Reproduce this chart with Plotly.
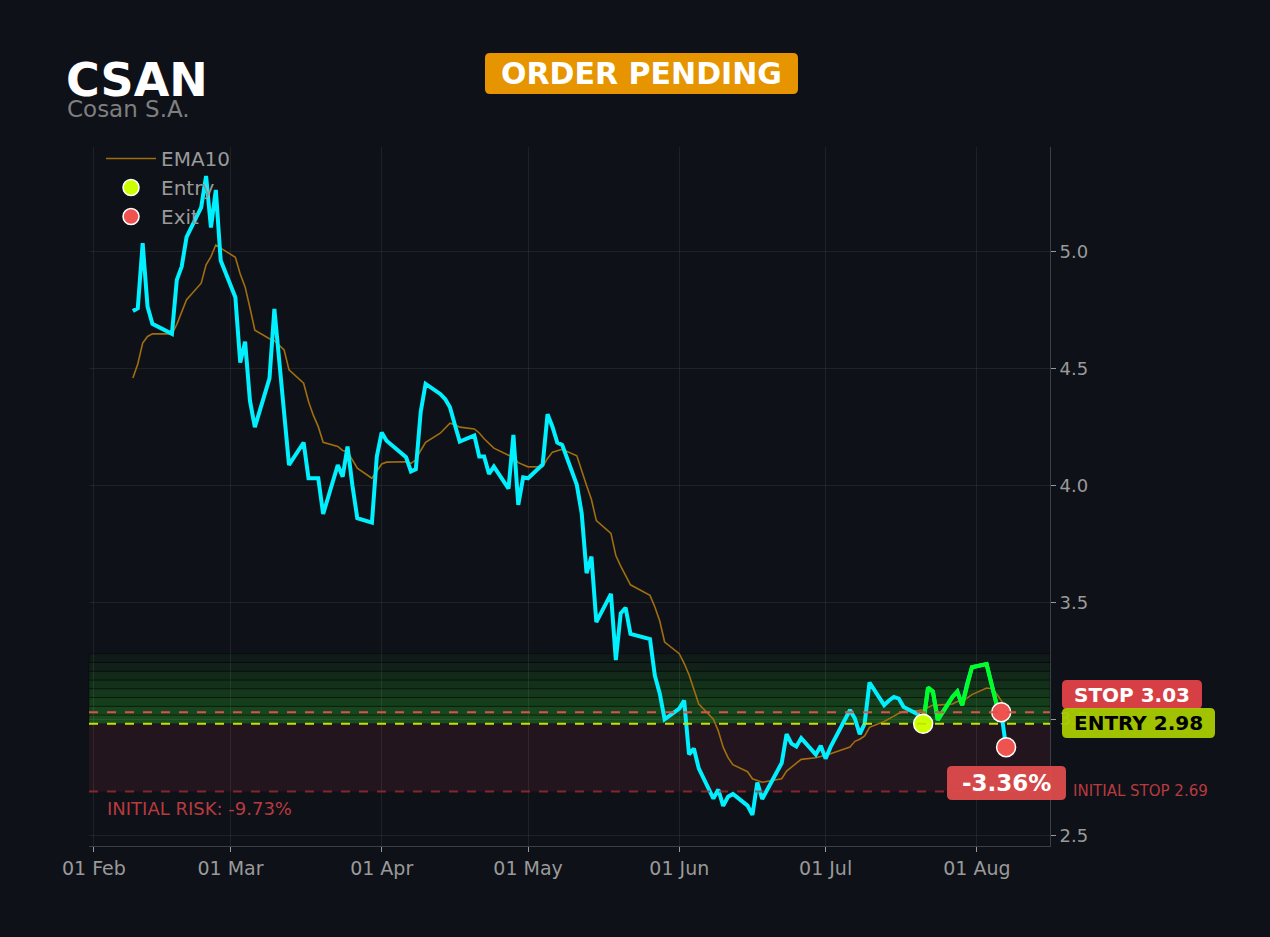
import plotly.graph_objects as go

# trading days shown on the chart
dates = [
    "2026-02-09", "2026-02-10", "2026-02-11", "2026-02-12", "2026-02-13",
    "2026-02-17", "2026-02-18", "2026-02-19", "2026-02-20",
    "2026-02-23", "2026-02-24", "2026-02-25", "2026-02-26", "2026-02-27",
    "2026-03-02", "2026-03-03", "2026-03-04", "2026-03-05", "2026-03-06",
    "2026-03-09", "2026-03-10", "2026-03-11", "2026-03-12", "2026-03-13",
    "2026-03-16", "2026-03-17", "2026-03-18", "2026-03-19", "2026-03-20",
    "2026-03-23", "2026-03-24", "2026-03-25", "2026-03-26", "2026-03-27",
    "2026-03-30", "2026-03-31", "2026-04-01", "2026-04-02",
    "2026-04-06", "2026-04-07", "2026-04-08", "2026-04-09", "2026-04-10",
    "2026-04-13", "2026-04-14", "2026-04-15", "2026-04-16", "2026-04-17",
    "2026-04-20", "2026-04-21", "2026-04-22", "2026-04-23", "2026-04-24",
    "2026-04-27", "2026-04-28", "2026-04-29", "2026-04-30", "2026-05-01",
    "2026-05-04", "2026-05-05", "2026-05-06", "2026-05-07", "2026-05-08",
    "2026-05-11", "2026-05-12", "2026-05-13", "2026-05-14", "2026-05-15",
    "2026-05-18", "2026-05-19", "2026-05-20", "2026-05-21", "2026-05-22",
    "2026-05-26", "2026-05-27", "2026-05-28", "2026-05-29",
    "2026-06-01", "2026-06-02", "2026-06-03", "2026-06-04", "2026-06-05",
    "2026-06-08", "2026-06-09", "2026-06-10", "2026-06-11", "2026-06-12",
    "2026-06-15", "2026-06-16", "2026-06-17", "2026-06-18",
    "2026-06-22", "2026-06-23", "2026-06-24", "2026-06-25", "2026-06-26",
    "2026-06-29", "2026-06-30", "2026-07-01", "2026-07-02",
    "2026-07-06", "2026-07-07", "2026-07-08", "2026-07-09", "2026-07-10",
    "2026-07-13", "2026-07-14", "2026-07-15", "2026-07-16", "2026-07-17",
    "2026-07-20", "2026-07-21", "2026-07-22", "2026-07-23", "2026-07-24",
    "2026-07-27", "2026-07-28", "2026-07-29", "2026-07-30", "2026-07-31",
    "2026-08-03", "2026-08-04", "2026-08-05", "2026-08-06", "2026-08-07",
]

close = [
    4.747, 4.759, 5.037, 4.766, 4.692,
    4.649, 4.88, 4.937, 5.063,
    5.191, 5.325, 5.104, 5.265, 4.963,
    4.806, 4.526, 4.616, 4.362, 4.25,
    4.459, 4.756, 4.52, 4.295, 4.088,
    4.184, 4.031, 4.031, 4.031, 3.878,
    4.088, 4.038, 4.167, 4.0, 3.86,
    3.841, 4.124, 4.227, 4.192,
    4.121, 4.06, 4.07, 4.316, 4.435,
    4.392, 4.37, 4.335, 4.26, 4.188,
    4.214, 4.124, 4.124, 4.05, 4.081,
    3.987, 4.217, 3.917, 4.035, 4.031,
    4.09, 4.305, 4.252, 4.184, 4.174,
    4.003, 3.881, 3.625, 3.696, 3.415,
    3.536, 3.253, 3.453, 3.477, 3.365,
    3.343, 3.186, 3.11, 2.999,
    3.045, 3.08, 2.849, 2.874, 2.789,
    2.66, 2.699, 2.629, 2.668, 2.68,
    2.63, 2.59, 2.729, 2.658,
    2.812, 2.936, 2.895, 2.883, 2.919,
    2.848, 2.886, 2.831, 2.88,
    3.039, 3.003, 2.936, 2.981, 3.157,
    3.06, 3.08, 3.095, 3.088, 3.052,
    3.02, 2.98, 3.135, 3.118, 2.997,
    3.095, 3.118, 3.06, 3.15, 3.222,
    3.236, 3.15, 3.068, 3.03, 2.88,
]

ema10 = [
    4.46, 4.52, 4.61, 4.638, 4.649,
    4.649, 4.69, 4.745, 4.795,
    4.866, 4.945, 4.98, 5.03, 5.016,
    4.977, 4.905, 4.85, 4.76, 4.665,
    4.628, 4.62, 4.60, 4.58, 4.495,
    4.438, 4.36, 4.30, 4.252, 4.185,
    4.167, 4.15, 4.145, 4.11, 4.074,
    4.031, 4.062, 4.092, 4.10,
    4.102, 4.095, 4.11, 4.15, 4.185,
    4.224, 4.245, 4.267, 4.26, 4.25,
    4.242, 4.225, 4.20, 4.18, 4.16,
    4.13, 4.121, 4.098, 4.09, 4.08,
    4.081, 4.116, 4.143, 4.15, 4.155,
    4.127, 4.06, 4.0, 3.94, 3.85,
    3.795, 3.70, 3.655, 3.617, 3.575,
    3.53, 3.48, 3.42, 3.33,
    3.28, 3.239, 3.19, 3.13, 3.065,
    3.0, 2.95, 2.88, 2.835, 2.805,
    2.775, 2.745, 2.739, 2.73,
    2.745, 2.778, 2.795, 2.812, 2.828,
    2.835, 2.842, 2.846, 2.852,
    2.881, 2.905, 2.914, 2.928, 2.965,
    2.99, 3.0, 3.013, 3.025, 3.033,
    3.037, 3.04, 3.05, 3.06, 3.06,
    3.065, 3.075, 3.08, 3.09, 3.105,
    3.133, 3.13, 3.11, 3.08, 3.05,
]

entry_date = ["2026-07-21"]
entry_price = [2.98]
exit_dates = ["2026-08-06", "2026-08-07"]
exit_prices = [3.03, 2.88]

stop_price = 3.03
initial_stop = 2.69
tick_vals = [2.5, 3.0, 3.5, 4.0, 4.5, 5.0]

BG = "#0e1117"
FONT = "DejaVu Sans"
W, H = 1270, 937
ML, MR, MT, MB = 89, 220, 147, 91


def P(px, py):
    # pixel -> paper coords
    return (px - ML) / (W - ML - MR), (H - MB - py) / (H - MT - MB)


def badge(x0, y0, x1, y1, color, r=5):
    def p(a, b):
        u, v = P(a, b)
        return "%.5f,%.5f" % (u, v)
    path = ("M" + p(x0 + r, y0) + " L" + p(x1 - r, y0) + " Q" + p(x1, y0) + " " + p(x1, y0 + r) +
            " L" + p(x1, y1 - r) + " Q" + p(x1, y1) + " " + p(x1 - r, y1) +
            " L" + p(x0 + r, y1) + " Q" + p(x0, y1) + " " + p(x0, y1 - r) +
            " L" + p(x0, y0 + r) + " Q" + p(x0, y0) + " " + p(x0 + r, y0) + " Z")
    return dict(type="path", xref="paper", yref="paper", path=path,
                fillcolor=color, line=dict(width=0), layer="above")


i0 = dates.index(entry_date[0])
i1 = dates.index(exit_dates[0])

fig = go.Figure()

fig.add_trace(go.Scatter(x=dates, y=ema10, mode="lines", name="EMA10",
                         line=dict(color="#a06e10", width=1.6)))
fig.add_trace(go.Scatter(x=dates, y=close, mode="lines", showlegend=False,
                         line=dict(color="#00f0ff", width=4)))
fig.add_trace(go.Scatter(x=dates[i0:i1 + 1], y=close[i0:i1 + 1], mode="lines",
                         showlegend=False, line=dict(color="#00ff22", width=4)))
fig.add_trace(go.Scatter(x=entry_date, y=entry_price, mode="markers", name="Entry",
                         marker=dict(color="#ccff00", size=19,
                                     line=dict(color="white", width=1.5))))
fig.add_trace(go.Scatter(x=exit_dates, y=exit_prices, mode="markers", name="Exit",
                         marker=dict(color="#ef5350", size=19,
                                     line=dict(color="white", width=1.5))))

# green profit zone, stacked stripes fading upward
for k in range(8):
    fig.add_shape(type="rect", xref="paper", x0=0, x1=1, yref="y",
                  y0=2.98 + 0.0375 * k, y1=2.98 + 0.0375 * (k + 1),
                  fillcolor="rgba(40,160,40,%.3f)" % (0.42 - 0.05 * k),
                  line=dict(color="rgba(0,0,0,0.35)", width=1), layer="below")

# risk zone
fig.add_shape(type="rect", xref="paper", x0=0, x1=1, yref="y",
              y0=initial_stop, y1=entry_price[0],
              fillcolor="rgba(120,40,60,0.2)", line=dict(width=0), layer="below")

fig.add_hline(y=stop_price, line=dict(color="#e0504a", width=2, dash="dash"))
fig.add_hline(y=entry_price[0], line=dict(color="#c8e000", width=2, dash="dash"))
fig.add_hline(y=initial_stop, line=dict(color="rgba(170,45,50,0.75)", width=2, dash="dash"))

# badges
fig.add_shape(**badge(485, 53, 798, 94, "#e69500"))
fig.add_shape(**badge(1062, 680, 1202, 709, "#d64045"))
fig.add_shape(**badge(1062, 708, 1215, 738, "rgba(170,204,0,0.95)"))
fig.add_shape(**badge(947, 766, 1066, 800, "rgba(226,76,76,0.93)"))

ann = [
    ("<b>CSAN</b>", P(64, 80), 46, "white", "left"),
    ("Cosan S.A.", P(65, 109), 23, "#7f7f7f", "left"),
    ("<b>ORDER PENDING</b>", P(641.5, 73.5), 30, "white", "center"),
    ("<b>STOP 3.03</b>", P(1132, 694.5), 20, "white", "center"),
    ("<b>ENTRY 2.98</b>", P(1138.5, 723), 20, "black", "center"),
    ("<b>-3.36%</b>", P(1006.5, 783), 23, "white", "center"),
    ("INITIAL STOP 2.69", P(1071, 791), 15, "#b83a3f", "left"),
    ("INITIAL RISK: -9.73%", P(105, 808), 18, "#b83a3f", "left"),
]
for text, (ax, ay), size, color, anchor in ann:
    fig.add_annotation(text=text, x=ax, y=ay, xref="paper", yref="paper",
                       xanchor=anchor, yanchor="middle", showarrow=False,
                       font=dict(size=size, color=color))

fig.update_layout(
    width=W, height=H,
    paper_bgcolor=BG, plot_bgcolor=BG,
    font=dict(family=FONT, color="#9a9a9a", size=18),
    margin=dict(l=ML, r=MR, t=MT, b=MB),
    showlegend=True,
    legend=dict(x=0.0125, y=1.0114, xanchor="left", yanchor="top",
                bgcolor="rgba(0,0,0,0)", font=dict(size=20, color="#9a9a9a"),
                itemwidth=50),
)
fig.update_xaxes(range=["2026-01-31", "2026-08-16"], tickformat="%d %b", dtick="M1",
                 tick0="2026-02-01", showgrid=True, gridcolor="rgba(255,255,255,0.07)",
                 showline=True, linecolor="#3a3e46", ticks="outside", ticklen=5,
                 tickcolor="#9a9a9a", zeroline=False, tickfont=dict(size=19))
fig.update_yaxes(range=[2.457, 5.449], side="right", tickvals=tick_vals,
                 tickformat=".1f", showgrid=True, gridcolor="rgba(255,255,255,0.07)",
                 showline=True, linecolor="#3a3e46", ticks="outside", ticklen=5,
                 tickcolor="#9a9a9a", zeroline=False, tickfont=dict(size=18))

fig.write_html("out.html", config={"displayModeBar": False},
               post_script="document.body.style.margin='0';")
